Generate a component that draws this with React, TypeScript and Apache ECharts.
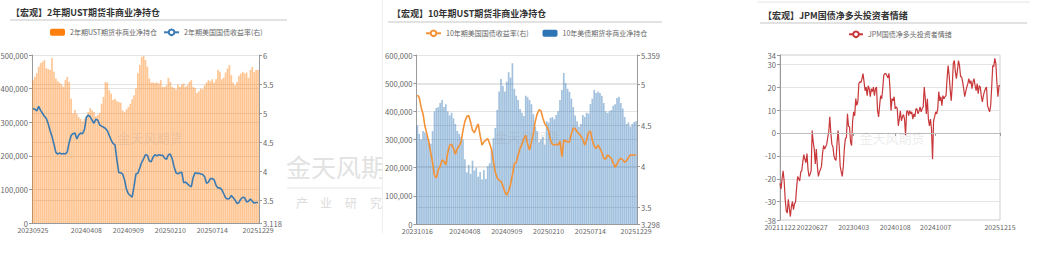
import React, { useEffect, useRef } from "react";
import * as echarts from "echarts";

const FONT = '"Noto Sans CJK SC", "Noto Sans", sans-serif';

// ---------- Chart 1: 2Y UST ----------
const ust2Start: [number, number, number] = [2023, 9, 25];
const ust2Labels = ["20230925", "20240408", "20240909", "20250210", "20250714", "20251229"];
const ust2Net = [
  425000, 435000, 446000, 465000, 476000, 480000, 485000, 461000, 458000, 455000,
  491000, 450000, 430000, 422000, 417000, 412000, 405000, 425000, 435000, 420000,
  370000, 327000, 336000, 325000, 315000, 310000, 303000, 310000, 318000, 330000,
  342000, 335000, 330000, 318000, 322000, 328000, 355000, 375000, 420000, 418000,
  395000, 385000, 366000, 370000, 362000, 360000, 358000, 335000, 330000, 338000,
  345000, 355000, 368000, 380000, 400000, 446000, 470000, 494000, 497000, 485000,
  465000, 430000, 418000, 418000, 417000, 418000, 415000, 425000, 405000, 405000,
  410000, 432000, 420000, 405000, 402000, 398000, 412000, 405000, 412000, 415000,
  405000, 410000, 420000, 425000, 405000, 402000, 387000, 392000, 400000, 398000,
  410000, 418000, 425000, 422000, 428000, 418000, 428000, 455000, 450000, 428000,
  432000, 448000, 460000, 470000, 440000, 418000, 410000, 420000, 438000, 445000,
  450000, 445000, 448000, 432000, 455000, 464000, 450000, 455000, 455000,
];
const ust2Yield = [
  5.08, 5.07, 5.04, 5.12, 5.05, 5.0, 4.95, 4.91, 4.82, 4.7,
  4.6, 4.47, 4.33, 4.3, 4.32, 4.3, 4.31, 4.3, 4.34, 4.5,
  4.62, 4.65, 4.66, 4.56, 4.63, 4.66, 4.65, 4.72, 4.93, 4.97,
  4.94, 4.88, 4.83, 4.9, 4.88, 4.8, 4.78, 4.76, 4.74, 4.7,
  4.62, 4.54, 4.48, 4.46, 4.2, 3.98, 3.98, 3.96, 3.86, 3.7,
  3.62, 3.59, 3.56, 3.75, 3.96, 3.97, 4.06, 4.16, 4.22, 4.29,
  4.28, 4.18, 4.17, 4.25, 4.29, 4.27, 4.29, 4.28, 4.28, 4.23,
  4.21, 4.29, 4.3, 4.22, 4.08, 3.98, 3.96, 3.98, 3.99, 3.81,
  3.82, 3.79, 3.76, 3.74, 3.9, 3.98, 3.97, 3.97, 3.96, 3.95,
  3.91, 3.8, 3.82, 3.88, 3.88, 3.86, 3.76, 3.72, 3.72, 3.69,
  3.62, 3.55, 3.53, 3.54, 3.59, 3.55, 3.51, 3.45, 3.47, 3.53,
  3.56, 3.55, 3.48, 3.49, 3.53, 3.49, 3.46, 3.47, 3.47,
];

// ---------- Chart 2: 10Y UST ----------
const ust10Start: [number, number, number] = [2023, 10, 16];
const ust10Labels = ["20231016", "20240408", "20240909", "20250210", "20250714", "20251229"];
const ust10Net = [
  350000, 320000, 300000, 330000, 325000, 315000, 300000, 285000, 330000, 400000,
  412000, 415000, 430000, 440000, 415000, 425000, 400000, 385000, 395000, 375000,
  355000, 330000, 320000, 310000, 300000, 230000, 183000, 210000, 178000, 225000,
  190000, 200000, 168000, 185000, 158000, 192000, 160000, 205000, 216000, 265000,
  305000, 341000, 405000, 470000, 515000, 490000, 470000, 505000, 539000, 520000,
  571000, 480000, 455000, 440000, 408000, 395000, 383000, 455000, 450000, 440000,
  425000, 390000, 345000, 330000, 290000, 300000, 310000, 282000, 365000, 360000,
  376000, 380000, 372000, 387000, 400000, 440000, 476000, 536000, 500000, 480000,
  469000, 445000, 415000, 385000, 365000, 345000, 355000, 387000, 380000, 395000,
  392000, 426000, 445000, 476000, 465000, 470000, 465000, 455000, 430000, 400000,
  394000, 400000, 405000, 420000, 425000, 447000, 452000, 430000, 410000, 380000,
  355000, 360000, 345000, 355000, 362000, 365000,
];
const ust10Yield = [
  4.87, 4.84, 4.72, 4.64, 4.49, 4.4, 4.3, 4.17, 4.05, 3.89,
  3.86, 3.96, 4.0, 4.08, 4.06, 4.02, 4.17, 4.26, 4.27, 4.22,
  4.15, 4.22, 4.25, 4.3, 4.44, 4.55, 4.61, 4.62, 4.54, 4.44,
  4.41, 4.47, 4.52, 4.38, 4.26, 4.3, 4.32, 4.34, 4.28, 4.21,
  4.06, 3.93, 3.86, 3.83, 3.82, 3.76, 3.69, 3.65, 3.7, 3.78,
  3.9, 4.03, 4.05, 4.14, 4.22, 4.27, 4.34, 4.38, 4.27, 4.2,
  4.3, 4.4, 4.55, 4.64, 4.69, 4.68, 4.59, 4.52, 4.49, 4.44,
  4.32, 4.27, 4.26, 4.27, 4.26, 4.31, 4.12, 4.32, 4.31, 4.3,
  4.3, 4.4, 4.47, 4.46, 4.42, 4.4, 4.37, 4.33, 4.26, 4.32,
  4.41, 4.43, 4.32, 4.25, 4.22, 4.26, 4.22, 4.17, 4.1, 4.09,
  4.14, 4.12, 4.1, 4.04, 3.99, 4.03, 4.08, 4.1, 4.08, 4.05,
  4.07, 4.11, 4.14, 4.14, 4.14, 4.14,
];

// ---------- Chart 3: JPM sentiment ----------
const jpmStart: [number, number, number] = [2021, 11, 22];
const jpmLabels = ["20211122", "20220627", "20230403", "20240108", "20241007", "20251215"];
const jpmSentiment = [
  -22, -24.5, -20, -16.5, -21, -29, -34, -35, -29, -33, -36.5, -32, -30, -33.5, -31,
  -30, -24, -19, -20, -21, -17, -16.5, -12.5, -9.5, -11.5, -13, -9, -16, -19, -18,
  -16.5, 1, -4, -7, -13.5, -7, -14.5, -19, -17, -16, -14.5, -9, -5.5, -7, -6,
  -5, -2, 0.5, 7, 0, -5, -6, -10, -11.5, -12, -4, 1, -5.5, -14.5, -17,
  -19, -14.5, -7, -2.5, -2, 8.3, 3, 2.6, -4, -5.5, 5.3, 9.2, 7.5, 15, 12,
  13.5, 21.5, 22.3, 22, 23.7, 25.9, 22.3, 18.4, 20, 16.3, 20.6, 19.3, 15.8, 19.3, 18,
  20, 16.3, 19.3, 20, 9.7, 7, 11.9, 16.3, 14.9, 19.3, 25.1, 25.9, 25.9, 25, 24,
  26, 19.3, 9.7, 15, 14, 15.8, 10.5, 11.4, 10.5, 3.1, 6.1, 9.6, 5.3, 7, 8,
  6, -1, 9.2, 9.7, 7.5, 9.7, 8.3, 9.2, 6, 8.3, 7, 10.5, 10.5, 8.3, 9.5,
  11.4, 9.2, 10.5, 11.4, 20, 14.9, 8.3, 14.9, 6, 3.1, 6, 1.7, -11.5, 5.3, 7,
  9.2, 8.3, 10.5, 18, 14, 15.8, 11.9, 16.3, 14.9, 15.8, 16.3, 23.7, 29.4, 25, 19,
  14, 20.6, 30.3, 31.6, 26.6, 23.7, 27.4, 31.6, 29.4, 24.5, 24.5, 22.3, 19.3, 15.8, 18,
  20, 21.5, 23.7, 21.5, 22.8, 19.3, 22.3, 23.7, 20.6, 18.4, 21.5, 17.1, 20.6, 20, 16,
  13.5, 16.3, 18, 19.3, 20, 11.9, 10.5, 9.2, 11.9, 20, 29.4, 28.9, 32.5, 30.3, 22,
  15.8, 20.6, 20.6,
];

function weeklyDates(start: [number, number, number], count: number): string[] {
  const t0 = Date.UTC(start[0], start[1] - 1, start[2]);
  const out: string[] = [];
  for (let i = 0; i < count; i++) {
    const d = new Date(t0 + i * 7 * 86400000);
    out.push(
      `${d.getUTCFullYear()}${String(d.getUTCMonth() + 1).padStart(2, "0")}${String(d.getUTCDate()).padStart(2, "0")}`
    );
  }
  return out;
}

const AX = "#9a9a9a";
const SPLIT = "#e4e4e4";
const LBL = "#666";
const YFS = 7.6;
const commas = (v: number) => v.toLocaleString("en-US");

function titleGraphics(text: string, x: number, y: number, lineY: number, x1: number, x2: number) {
  return [
    {
      type: "text",
      x,
      y,
      style: {
        text,
        fontSize: 9,
        fontWeight: "bold",
        fontFamily: FONT,
        fill: "#333",
        textVerticalAlign: "middle",
        verticalAlign: "middle",
      },
    },
    {
      type: "line",
      shape: { x1, y1: lineY, x2, y2: lineY },
      style: { stroke: "#d8d8d8", lineWidth: 1.5 },
    },
  ];
}

function watermark(cx: number, cy: number) {
  return {
    type: "text",
    x: cx,
    y: cy,
    z: 100,
    style: {
      text: "金天风期货",
      fontSize: 13,
      fontFamily: FONT,
      fill: "rgba(150,150,150,0.2)",
      textAlign: "center",
      align: "center",
      textVerticalAlign: "middle",
      verticalAlign: "middle",
    },
  };
}

function catAxis(dates: string[], labels: string[], boundaryGap: boolean) {
  const pick = (i: number, v: string) => labels.includes(v);
  return {
    type: "category",
    data: dates,
    boundaryGap,
    axisLine: { lineStyle: { color: AX } },
    axisTick: { interval: pick, length: 3, alignWithLabel: true, lineStyle: { color: AX } },
    axisLabel: { interval: pick, fontSize: 7, color: LBL, margin: 3, fontFamily: FONT },
    splitLine: { show: false },
  };
}

function valAxis(extra: any) {
  return {
    type: "value",
    axisLine: { show: true, lineStyle: { color: AX } },
    axisTick: { show: true, length: 3, lineStyle: { color: AX } },
    axisLabel: { fontSize: YFS, color: LBL, margin: 4, fontFamily: FONT },
    splitLine: { show: true, lineStyle: { color: SPLIT } },
    ...extra,
  };
}

// chart 1 local offset: div at left -6
const o1 = 6;
const option1 = {
  animation: false,
  textStyle: { fontFamily: FONT },
  graphic: [
    ...titleGraphics("【宏观】2年期UST期货非商业净持仓", 11 + o1, 12, 20, 10 + o1, 287 + o1),
    watermark(150 + o1, 137),
    {
      type: "text",
      x: 286 + o1,
      y: 166,
      style: {
        text: "金天风期货",
        fontSize: 25,
        fontFamily: FONT,
        fill: "#e2e2e2",
        textVerticalAlign: "middle",
        verticalAlign: "middle",
      },
    },
    {
      type: "line",
      shape: { x1: 287 + o1, y1: 188, x2: 400, y2: 188 },
      style: { stroke: "#e6e6e6", lineWidth: 1.2 },
    },
    ...["产", "业", "研", "究"].map((ch, k) => ({
      type: "text",
      x: [302, 326, 351, 376][k] + o1,
      y: 202,
      style: {
        text: ch,
        fontSize: 12,
        fontFamily: FONT,
        fill: "#dcdcdc",
        textAlign: "center",
        align: "center",
        textVerticalAlign: "middle",
        verticalAlign: "middle",
      },
    })),
  ],
  legend: {
    left: 45 + o1,
    top: 23.5,
    itemWidth: 15,
    itemHeight: 7,
    itemGap: 6,
    textStyle: { fontSize: 7, color: LBL, fontFamily: FONT },
    data: [
      { name: "2年期UST期货非商业净持仓", itemStyle: { color: "#FF7F0E", opacity: 1 } },
      { name: "2年期美国国债收益率(右)" },
    ],
  },
  grid: { left: 32 + o1, top: 55, width: 227, height: 168 },
  xAxis: catAxis(weeklyDates(ust2Start, ust2Net.length), ust2Labels, true),
  yAxis: [
    valAxis({ min: 0, max: 500000, interval: 100000, axisLabel: { fontSize: YFS, color: LBL, margin: 4, formatter: commas } }),
    valAxis({ min: 3.118, max: 6, splitNumber: 5, position: "right" }),
  ],
  series: [
    {
      name: "2年期UST期货非商业净持仓",
      type: "bar",
      data: ust2Net,
      barCategoryGap: "12%",
      itemStyle: { color: "rgba(255,127,14,0.45)" },
    },
    {
      name: "2年期美国国债收益率(右)",
      type: "line",
      yAxisIndex: 1,
      data: ust2Yield,
      symbol: "emptyCircle",
      showSymbol: false,
      lineStyle: { color: "#3B7BB3", width: 1.6 },
      itemStyle: { color: "#3B7BB3" },
    },
  ],
};

// chart 2 local offset: div at left 382
const o2 = -382;
const option2 = {
  animation: false,
  textStyle: { fontFamily: FONT },
  graphic: [
    { type: "line", shape: { x1: 0.5, y1: 0, x2: 0.5, y2: 233 }, style: { stroke: "#eeeeee", lineWidth: 1 } },
    ...titleGraphics("【宏观】10年期UST期货非商业净持仓", 392 + o2, 13, 22, 388 + o2, 662 + o2),
    watermark(527 + o2, 136),
  ],
  legend: {
    left: 420 + o2,
    top: 24.5,
    itemWidth: 15,
    itemHeight: 7,
    itemGap: 14,
    textStyle: { fontSize: 7, color: LBL, fontFamily: FONT },
    data: [
      { name: "10年期美国国债收益率(右)" },
      { name: "10年美债期货非商业净持仓", itemStyle: { color: "#2E75B6", opacity: 1 } },
    ],
  },
  grid: { left: 411 + o2, top: 55, width: 226, height: 169 },
  xAxis: catAxis(weeklyDates(ust10Start, ust10Net.length), ust10Labels, true),
  yAxis: [
    valAxis({ min: 0, max: 600000, interval: 100000, axisLabel: { fontSize: YFS, color: LBL, margin: 4, formatter: commas } }),
    valAxis({ min: 3.298, max: 5.359, splitNumber: 5, position: "right" }),
  ],
  series: [
    {
      name: "10年美债期货非商业净持仓",
      type: "bar",
      data: ust10Net,
      barCategoryGap: "12%",
      itemStyle: { color: "rgba(46,117,182,0.45)" },
    },
    {
      name: "10年期美国国债收益率(右)",
      type: "line",
      yAxisIndex: 1,
      data: ust10Yield,
      symbol: "emptyCircle",
      showSymbol: false,
      lineStyle: { color: "#F39237", width: 1.6 },
      itemStyle: { color: "#F39237" },
    },
  ],
};

// chart 3 local offset: div at left 757
const o3 = -757;
const option3 = {
  animation: false,
  textStyle: { fontFamily: FONT },
  graphic: [
    { type: "line", shape: { x1: 0, y1: 2, x2: 273, y2: 2 }, style: { stroke: "#eeeeee", lineWidth: 1.5 } },
    ...titleGraphics("【宏观】JPM国债净多头投资者情绪", 763 + o3, 15, 23, 760 + o3, 1027 + o3),
    watermark(892 + o3, 137),
  ],
  legend: {
    left: 843 + o3,
    top: 25.5,
    itemWidth: 14,
    itemHeight: 7,
    textStyle: { fontSize: 7, color: LBL, fontFamily: FONT },
    data: [{ name: "JPM国债净多头投资者情绪" }],
  },
  grid: { left: 780 + o3, top: 55, width: 220, height: 165, show: true, borderColor: "#cfcfcf", borderWidth: 1 },
  xAxis: catAxis(weeklyDates(jpmStart, jpmSentiment.length), jpmLabels, false),
  yAxis: [valAxis({ min: -38, max: 34, splitNumber: 5 })],
  series: [
    {
      name: "JPM国债净多头投资者情绪",
      type: "line",
      data: jpmSentiment,
      symbol: "emptyCircle",
      showSymbol: false,
      lineStyle: { color: "#C8373A", width: 1.2 },
      itemStyle: { color: "#C8373A" },
      markLine: {
        silent: true,
        symbol: "none",
        label: { show: false },
        lineStyle: { color: "#bdbdbd", width: 1, type: "solid" },
        data: [{ yAxis: 0 }],
      },
    },
  ],
};

function Chart({ option, style }: { option: any; style: React.CSSProperties }) {
  const ref = useRef<HTMLDivElement>(null);
  useEffect(() => {
    const chart = echarts.init(ref.current!, null, { renderer: "svg" });
    chart.setOption(option);
    return () => chart.dispose();
  }, [option]);
  return <div ref={ref} style={style} />;
}

export default function App() {
  return (
    <div
      style={{
        position: "absolute",
        left: 0,
        top: 0,
        width: 1045,
        height: 272,
        background: "#fff",
        overflow: "hidden",
      }}
    >
      <Chart option={option1} style={{ position: "absolute", left: -6, top: 0, width: 400, height: 272 }} />
      <Chart option={option2} style={{ position: "absolute", left: 382, top: 0, width: 283, height: 272, background: "#fff" }} />
      <Chart option={option3} style={{ position: "absolute", left: 757, top: 0, width: 280, height: 272, background: "#fff" }} />
    </div>
  );
}
